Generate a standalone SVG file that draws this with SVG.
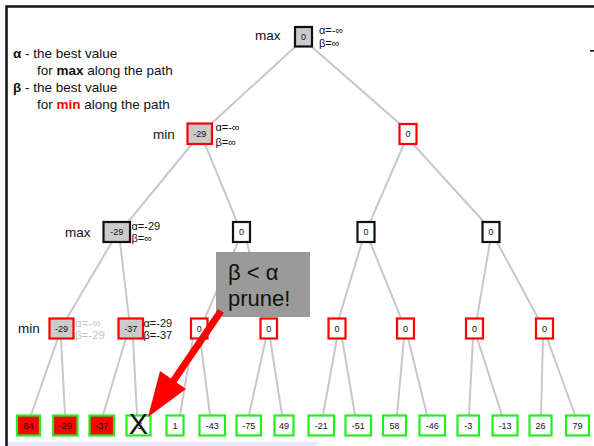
<svg xmlns="http://www.w3.org/2000/svg" width="594" height="446" viewBox="0 0 594 446">
<style>
text{font-family:"Liberation Sans",Arial,sans-serif;}
.lbl{font-size:13.5px;fill:#111;}
.ab{font-size:11px;fill:#111;}
.abg{font-size:11.5px;fill:#c4c4c4;}
.nt{font-size:9px;fill:#111;text-anchor:middle;}
.mx{stroke:#111;stroke-width:2.2;}
.mn{stroke:#f00;stroke-width:2.2;}
.lf{stroke:#22ee22;stroke-width:2.2;}
.g{fill:#cbcbcb;}
.w{fill:#fff;}
.r{fill:#f00;}
.leg{font-size:13.5px;fill:#111;}
#edges line{stroke:#c8c8c8;stroke-width:2;}
</style>
<rect width="594" height="446" fill="#fff"/>
<polygon points="7,442 320,442 315,446 7,446" fill="#e8e8f6"/>
<path d="M6.5,446 V6.5 H594" fill="none" stroke="#111" stroke-width="2.5"/>
<rect x="590" y="50" width="4" height="1.6" fill="#111"/>

<g id="legend">
<text class="leg" x="13" y="58"><tspan font-weight="bold">α</tspan> - the best value</text>
<text class="leg" x="37" y="75">for <tspan font-weight="bold">max</tspan> along the path</text>
<text class="leg" x="13" y="92"><tspan font-weight="bold">β</tspan> - the best value</text>
<text class="leg" x="37" y="109">for <tspan font-weight="bold" fill="#f00">min</tspan> along the path</text>
</g>

<g id="edges">
<line x1="295" y1="47" x2="212" y2="123"/>
<line x1="312" y1="47" x2="400" y2="124"/>
<line x1="192" y1="144" x2="128" y2="222"/>
<line x1="205" y1="144" x2="237" y2="222"/>
<line x1="404" y1="144" x2="370" y2="222"/>
<line x1="413" y1="144" x2="484" y2="222"/>
<line x1="112" y1="242" x2="67" y2="318"/>
<line x1="120" y1="242" x2="129" y2="318"/>
<line x1="238" y1="242" x2="205" y2="318"/>
<line x1="247" y1="242" x2="264" y2="318"/>
<line x1="362" y1="242" x2="339" y2="318"/>
<line x1="370" y1="242" x2="401" y2="318"/>
<line x1="490" y1="242" x2="477" y2="318"/>
<line x1="497" y1="242" x2="538" y2="318"/>
<line x1="58" y1="338" x2="31" y2="415"/>
<line x1="61" y1="338" x2="65" y2="415"/>
<line x1="126" y1="338" x2="103" y2="415"/>
<line x1="133" y1="338" x2="137" y2="415"/>
<line x1="193" y1="338" x2="180" y2="415"/>
<line x1="200" y1="338" x2="210" y2="415"/>
<line x1="266" y1="338" x2="249" y2="415"/>
<line x1="270" y1="338" x2="282" y2="415"/>
<line x1="337" y1="338" x2="323" y2="415"/>
<line x1="342" y1="338" x2="355" y2="415"/>
<line x1="404" y1="338" x2="397" y2="415"/>
<line x1="408" y1="338" x2="427" y2="415"/>
<line x1="473" y1="338" x2="469" y2="415"/>
<line x1="477" y1="338" x2="502" y2="415"/>
<line x1="543" y1="338" x2="541" y2="415"/>
<line x1="547" y1="338" x2="575" y2="415"/>
</g>

<g id="root">
<text class="lbl" x="255" y="39.5">max</text>
<rect class="g mx" x="295" y="27" width="17" height="19.5"/>
<text class="nt" x="303.5" y="40">0</text>
<text class="ab" x="319" y="34">α=-∞</text>
<text class="ab" x="319" y="46.5">β=∞</text>
</g>

<g id="min-l">
<text class="lbl" x="153" y="138.5">min</text>
<rect class="g mn" x="187.5" y="123.5" width="24.5" height="20.5"/>
<text class="nt" x="199.8" y="137">-29</text>
<text class="ab" x="215.5" y="131">α=-∞</text>
<text class="ab" x="215.5" y="145.5">β=∞</text>
</g>
<g id="min-r">
<rect class="w mn" x="399.5" y="124" width="17" height="20"/>
<text class="nt" x="408" y="137">0</text>
</g>

<g id="max-1">
<text class="lbl" x="65" y="236.5">max</text>
<rect class="g mx" x="103.5" y="222" width="26.5" height="20"/>
<text class="nt" x="116.8" y="235">-29</text>
<text class="ab" x="131.5" y="230">α=-29</text>
<text class="ab" x="131.5" y="242">β=∞</text>
</g>
<g id="max-2"><rect class="w mx" x="233" y="222" width="17" height="20"/><text class="nt" x="241.5" y="235">0</text></g>
<g id="max-3"><rect class="w mx" x="357.5" y="222" width="17" height="20"/><text class="nt" x="366" y="235">0</text></g>
<g id="max-4"><rect class="w mx" x="482.5" y="222" width="17" height="20"/><text class="nt" x="491" y="235">0</text></g>

<g id="min-1">
<text class="lbl" x="18" y="332.5">min</text>
<rect class="g mn" x="49.5" y="318.5" width="24" height="20"/>
<text class="nt" x="61.5" y="331.5">-29</text>
<text class="abg" x="75" y="327">α=-∞</text>
<text class="abg" x="75" y="339">β=-29</text>
</g>
<g id="min-2">
<rect class="g mn" x="118.5" y="318.5" width="24.5" height="20"/>
<text class="nt" x="130.8" y="331.5">-37</text>
<text class="ab" x="143.5" y="327" font-size="11.5">α=-29</text>
<text class="ab" x="143.5" y="339" font-size="11.5">β=-37</text>
</g>
<g id="min-3"><rect class="w mn" x="191" y="318.5" width="16.5" height="20"/><text class="nt" x="199.3" y="331.5">0</text></g>
<g id="min-4"><rect class="w mn" x="260.5" y="318.5" width="16.5" height="20"/><text class="nt" x="268.8" y="331.5">0</text></g>
<g id="min-5"><rect class="w mn" x="328.5" y="318.5" width="17" height="20"/><text class="nt" x="337" y="331.5">0</text></g>
<g id="min-6"><rect class="w mn" x="397" y="318.5" width="17" height="20"/><text class="nt" x="405.5" y="331.5">0</text></g>
<g id="min-7"><rect class="w mn" x="466" y="318.5" width="17" height="20"/><text class="nt" x="474.5" y="331.5">0</text></g>
<g id="min-8"><rect class="w mn" x="536" y="318.5" width="17" height="20"/><text class="nt" x="544.5" y="331.5">0</text></g>

<g id="leaf-1"><rect class="r lf" x="17" y="415.5" width="23" height="20"/><text class="nt" x="28.5" y="428.5">84</text></g>
<g id="leaf-2"><rect class="r lf" x="53" y="415.5" width="24.5" height="20"/><text class="nt" x="65.3" y="428.5">-29</text></g>
<g id="leaf-3"><rect class="r lf" x="89.5" y="415.5" width="24.5" height="20"/><text class="nt" x="101.8" y="428.5">-37</text></g>
<g id="leaf-4"><rect class="w lf" x="126.5" y="415.5" width="24" height="20"/><text class="nt" x="138.5" y="428.5">-5</text></g>
<g id="leaf-5"><rect class="w lf" x="166.5" y="415.5" width="17" height="20"/><text class="nt" x="175" y="428.5">1</text></g>
<g id="leaf-6"><rect class="w lf" x="199.5" y="415.5" width="25.5" height="20"/><text class="nt" x="212.3" y="428.5">-43</text></g>
<g id="leaf-7"><rect class="w lf" x="236.5" y="415.5" width="24.5" height="20"/><text class="nt" x="248.8" y="428.5">-75</text></g>
<g id="leaf-8"><rect class="w lf" x="274.5" y="415.5" width="19" height="20"/><text class="nt" x="284" y="428.5">49</text></g>
<g id="leaf-9"><rect class="w lf" x="308.5" y="415.5" width="25.5" height="20"/><text class="nt" x="321.3" y="428.5">-21</text></g>
<g id="leaf-10"><rect class="w lf" x="345.5" y="415.5" width="25.5" height="20"/><text class="nt" x="358.3" y="428.5">-51</text></g>
<g id="leaf-11"><rect class="w lf" x="383" y="415.5" width="23" height="20"/><text class="nt" x="394.5" y="428.5">58</text></g>
<g id="leaf-12"><rect class="w lf" x="419.5" y="415.5" width="25.5" height="20"/><text class="nt" x="432.3" y="428.5">-46</text></g>
<g id="leaf-13"><rect class="w lf" x="457.5" y="415.5" width="21.5" height="20"/><text class="nt" x="468.3" y="428.5">-3</text></g>
<g id="leaf-14"><rect class="w lf" x="492.5" y="415.5" width="25" height="20"/><text class="nt" x="505" y="428.5">-13</text></g>
<g id="leaf-15"><rect class="w lf" x="529.5" y="415.5" width="22" height="20"/><text class="nt" x="540.5" y="428.5">26</text></g>
<g id="leaf-16"><rect class="w lf" x="566" y="415.5" width="23" height="20"/><text class="nt" x="577.5" y="428.5">79</text></g>

<g id="prune">
<rect x="216" y="252" width="94" height="65" fill="#9a9a9a"/>
<text x="228" y="280" font-size="22" fill="#111">β &lt; α</text>
<text x="228" y="306" font-size="22" fill="#111">prune!</text>
</g>

<g id="arrow">
<line x1="221" y1="311" x2="172" y2="383" stroke="#f00" stroke-width="7"/>
<polygon points="148,417 160,371 186,389" fill="#f00"/>
</g>

<text x="138.5" y="434" font-size="29" text-anchor="middle" fill="#111">X</text>
</svg>
